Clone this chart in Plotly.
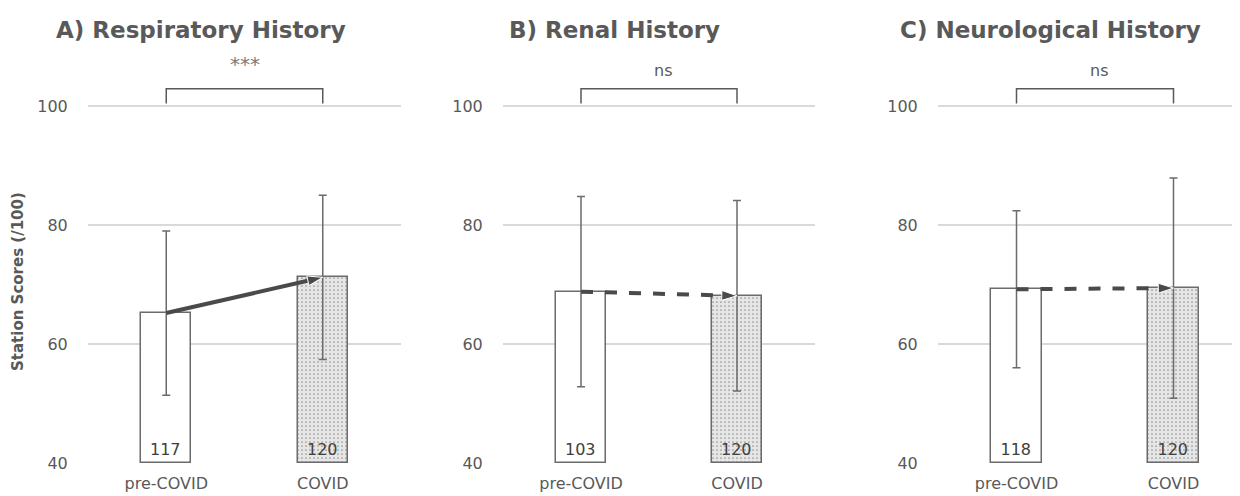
import plotly.graph_objects as go

categories = ["pre-COVID", "COVID"]
panel_titles = ["A) Respiratory History", "B) Renal History", "C) Neurological History"]
significance = ["***", "ns", "ns"]

resp_mean = [65.2, 71.2]
resp_sd = [13.8, 13.8]
resp_n = [117, 120]

renal_mean = [68.8, 68.1]
renal_sd = [16.0, 16.0]
renal_n = [103, 120]

neuro_mean = [69.2, 69.4]
neuro_sd = [13.2, 18.5]
neuro_n = [118, 120]

y_ticks = [40, 60, 80, 100]

means = [resp_mean, renal_mean, neuro_mean]
sds = [resp_sd, renal_sd, neuro_sd]
ns = [resp_n, renal_n, neuro_n]
arrow_dash = ["solid", "dash", "dash"]

W, H = 1240, 496
FONT = "DejaVu Sans"
GRAY = "#595959"
OUTLINE = "#6b6b6b"

# plot area in figure pixels
TOP, BOTTOM = 72, 455
PH = BOTTOM - TOP

domains = [[80 / W, 393 / W], [495 / W, 807 / W], [930 / W, 1.0]]
x_ranges = [[-0.5, 1.5], [-0.5, 1.5], [-0.5, -0.5 + 310 / 157]]
y_range = [40, 104.37]


def py(fig_y):
    return (BOTTOM - fig_y) / PH


fig = go.Figure()

for i in range(3):
    xa = "x" if i == 0 else f"x{i+1}"
    ya = "y" if i == 0 else f"y{i+1}"
    fig.add_trace(go.Bar(
        x=categories, y=[m - 40 for m in means[i]], base=40,
        xaxis=xa, yaxis=ya, width=0.32,
        marker=dict(
            color=["white", "#e6e6e6"],
            line=dict(color=OUTLINE, width=1.5),
            pattern=dict(shape=["", "."], fgcolor="#d2d2d2", bgcolor=["white", "#e6e6e6"],
                         size=4, solidity=0.15),
        ),
        error_y=dict(type="data", array=sds[i], color=OUTLINE, thickness=1.5, width=4),
        text=[str(v) for v in ns[i]], textposition="inside", insidetextanchor="start",
        textangle=0, textfont=dict(family=FONT, size=16, color="#404040"),
        showlegend=False, hoverinfo="skip",
    ))
    fig.add_trace(go.Scatter(
        x=categories, y=means[i], xaxis=xa, yaxis=ya, mode="lines+markers",
        line=dict(color="#4a4a4a", width=4, dash=arrow_dash[i]),
        marker=dict(symbol="arrow", angleref="previous", size=[1, 16],
                    color="#4a4a4a", opacity=[0, 1]),
        showlegend=False, hoverinfo="skip", cliponaxis=False,
    ))
    fig.add_shape(type="path", xref=xa, yref=ya,
                  path="M 0,100.4 L 0,102.9 L 1,102.9 L 1,100.4",
                  line=dict(color=GRAY, width=1.5))
    fig.add_annotation(xref=xa, yref="paper", x=0.5,
                       y=py(56) if i == 0 else py(62),
                       text=significance[i], showarrow=False,
                       font=dict(family=FONT, size=20 if i == 0 else 16,
                                 color="#7a7a7a" if i == 0 else GRAY),
                       xshift=0 if i == 0 else 4, yanchor="middle")
    tx = [193, 606, 1042][i]
    fig.add_annotation(xref="paper", yref="paper", x=tx / W, y=py(22),
                       text=f"<b>{panel_titles[i]}</b>", showarrow=False,
                       font=dict(family=FONT, size=23, color=GRAY),
                       xanchor="center", yanchor="middle")

fig.add_annotation(xref="paper", yref="paper", x=10 / W, y=py(274),
                   text="<b>Station Scores (/100)</b>", showarrow=False, textangle=-90,
                   font=dict(family=FONT, size=15, color=GRAY),
                   xanchor="center", yanchor="middle")

layout = dict(
    width=W, height=H,
    margin=dict(l=0, r=0, t=TOP, b=H - BOTTOM),
    plot_bgcolor="white", paper_bgcolor="white",
    bargap=0,
    font=dict(family=FONT, color=GRAY),
)
for i in range(3):
    xk = "xaxis" if i == 0 else f"xaxis{i+1}"
    yk = "yaxis" if i == 0 else f"yaxis{i+1}"
    layout[xk] = dict(domain=domains[i], range=x_ranges[i], type="category",
                      anchor="y" if i == 0 else f"y{i+1}",
                      showgrid=False, showline=False, zeroline=False,
                      tickfont=dict(family=FONT, size=16, color=GRAY),
                      ticks="outside", ticklen=6, tickcolor="rgba(0,0,0,0)")
    layout[yk] = dict(domain=[0, 1], range=y_range,
                      anchor="x" if i == 0 else f"x{i+1}",
                      tickvals=y_ticks, showgrid=True, gridcolor="#d9d9d9", gridwidth=1.5,
                      zeroline=False, showline=False,
                      tickfont=dict(family=FONT, size=16, color=GRAY),
                      ticks="outside", ticklen=16, tickcolor="rgba(0,0,0,0)")
fig.update_layout(**layout)

fig.write_html("out.html")
